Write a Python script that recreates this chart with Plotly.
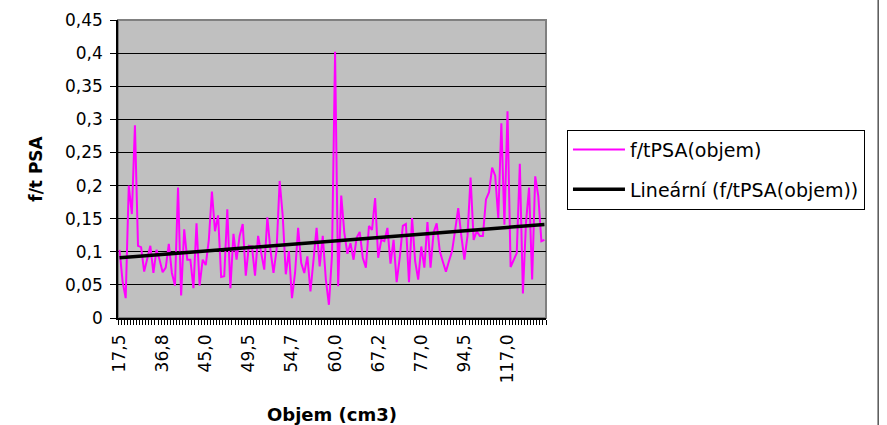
import numpy as np
import plotly.graph_objects as go

# f/tPSA values (ordered by volume category)
ft_psa = [
    0.103, 0.055, 0.030, 0.200, 0.157, 0.291, 0.109, 0.107, 0.070, 0.088,
    0.109, 0.068, 0.103, 0.088, 0.069, 0.076, 0.112, 0.068, 0.049, 0.197,
    0.034, 0.134, 0.088, 0.088, 0.045, 0.143, 0.049, 0.088, 0.080, 0.118,
    0.191, 0.131, 0.155, 0.062, 0.063,
    0.164, 0.045, 0.127, 0.088, 0.124, 0.142, 0.064, 0.109, 0.108, 0.064,
    0.124, 0.101, 0.073, 0.152, 0.103, 0.068, 0.103, 0.207, 0.154, 0.066,
    0.101, 0.030, 0.068, 0.136, 0.083, 0.068, 0.093, 0.040, 0.091, 0.136,
    0.078, 0.124, 0.058,
    0.020, 0.095, 0.402, 0.048, 0.185, 0.129, 0.097, 0.113, 0.088, 0.121,
    0.130, 0.091, 0.076, 0.139, 0.133, 0.181,
    0.091, 0.118, 0.116, 0.136, 0.082, 0.118, 0.054, 0.091, 0.139, 0.142,
    0.054, 0.151, 0.086, 0.058, 0.108, 0.076, 0.145, 0.076, 0.129,
    0.143, 0.101, 0.085, 0.070, 0.086, 0.101, 0.133, 0.166, 0.124, 0.088,
    0.124, 0.212,
    0.118, 0.131, 0.124, 0.124, 0.179, 0.190, 0.227, 0.215, 0.151, 0.294,
    0.141, 0.312, 0.077, 0.089, 0.098, 0.233, 0.037, 0.144, 0.197, 0.058,
    0.214, 0.184, 0.116, 0.118,
]

# category tick labels shown (every 14th category)
x_labels = ["17,5", "36,8", "45,0", "49,5", "54,7", "60,0", "67,2", "77,0", "94,5", "117,0"]
label_step = 14

y_ticks = [0, 0.05, 0.1, 0.15, 0.2, 0.25, 0.3, 0.35, 0.4, 0.45]
y_ticktext = ["0", "0,05", "0,1", "0,15", "0,2", "0,25", "0,3", "0,35", "0,4", "0,45"]

n = len(ft_psa)
idx = np.arange(n)
slope, intercept = np.polyfit(idx + 1, ft_psa, 1)
trend = intercept + slope * (idx + 1)

FONT = "DejaVu Sans, Verdana, sans-serif"

fig = go.Figure()
fig.add_trace(go.Scatter(
    x=idx, y=ft_psa, mode="lines", name="f/tPSA(objem)",
    line=dict(color="#FF00FF", width=2), legendgroup="a",
))
fig.add_trace(go.Scatter(
    x=idx, y=trend, mode="lines", name="Lineární (f/tPSA(objem))",
    line=dict(color="#000000", width=3.5), legendgroup="b",
))

fig.update_layout(
    width=887, height=425,
    margin=dict(l=118, r=341, t=20, b=107, autoexpand=False),
    paper_bgcolor="white", plot_bgcolor="#C0C0C0",
    font=dict(family=FONT, size=17, color="black"),
    showlegend=True,
    legend=dict(
        x=1.049, y=0.632, xanchor="left", yanchor="top",
        bordercolor="black", borderwidth=1, bgcolor="white",
        font=dict(family=FONT, size=19), tracegroupgap=12,
        itemwidth=52,
    ),
    shapes=[
        dict(type="rect", xref="paper", yref="paper", x0=0, x1=1, y0=0, y1=1,
             line=dict(color="#808080", width=2), layer="below"),
        dict(type="line", xref="paper", yref="paper", x0=1.776, x1=1.776,
             y0=-0.4, y1=1.07, line=dict(color="black", width=1)),
    ],
)

fig.update_xaxes(
    range=[-0.5, n - 0.5],
    automargin=False,
    tickmode="array",
    tickvals=[i * label_step for i in range(len(x_labels))],
    ticktext=x_labels,
    tickangle=-90,
    ticks="", ticklen=0,
    ticklabelstandoff=8,
    showgrid=False, zeroline=False,
    showline=True, linecolor="black", linewidth=1.5,
    tickfont=dict(family=FONT, size=17),
    minor=dict(tickmode="array", tickvals=[i - 0.5 for i in range(n + 1)],
               ticks="outside", ticklen=5, tickcolor="black", tickwidth=1,
               showgrid=False),
    title=dict(text="<b>Objem (cm3)</b>", font=dict(family=FONT, size=18), standoff=26),
)
fig.update_yaxes(
    range=[0, 0.45],
    automargin=False,
    tickmode="array", tickvals=y_ticks, ticktext=y_ticktext,
    ticks="outside", ticklen=6, tickcolor="black",
    ticklabelstandoff=4,
    showgrid=True, gridcolor="black", gridwidth=1,
    zeroline=False,
    showline=True, linecolor="black", linewidth=1.5,
    tickfont=dict(family=FONT, size=17),
    title=dict(text="<b>f/t PSA</b>", font=dict(family=FONT, size=17), standoff=18),
)

fig.write_html("out.html")
